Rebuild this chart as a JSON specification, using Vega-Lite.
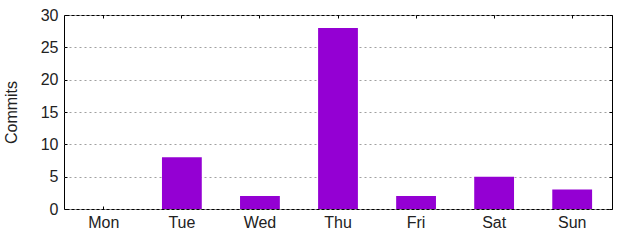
{
  "$schema": "https://vega.github.io/schema/vega-lite/v6.json",
  "width": 548,
  "height": 194,
  "autosize": {"type": "none"},
  "padding": {"left": 64, "top": 15, "right": 28, "bottom": 31},
  "background": "white",
  "config": {
    "font": "Liberation Sans",
    "view": {"stroke": "black", "strokeWidth": 1},
    "axis": {
      "labelFont": "Liberation Sans",
      "titleFont": "Liberation Sans",
      "labelFontSize": 16,
      "titleFontSize": 16,
      "labelColor": "#222222",
      "titleColor": "#222222",
      "titleFontWeight": "normal",
      "domain": false,
      "tickColor": "black",
      "tickSize": -3
    }
  },
  "data": {
    "values": [
      {"day": "Mon", "commits": 0},
      {"day": "Tue", "commits": 8},
      {"day": "Wed", "commits": 2},
      {"day": "Thu", "commits": 28},
      {"day": "Fri", "commits": 2},
      {"day": "Sat", "commits": 5},
      {"day": "Sun", "commits": 3}
    ]
  },
  "layer": [
    {
      "mark": {"type": "bar", "color": "#9400D3"},
      "encoding": {
        "x": {
          "field": "day",
          "type": "nominal",
          "sort": null,
          "scale": {"paddingInner": 0.49, "paddingOuter": 0.255},
          "axis": {"title": null, "labelAngle": 0, "labelPadding": 8, "orient": "bottom"}
        },
        "y": {
          "field": "commits",
          "type": "quantitative",
          "scale": {"domain": [0, 30], "nice": false},
          "axis": {
            "title": "Commits",
            "orient": "left",
            "values": [0, 5, 10, 15, 20, 25, 30],
            "grid": true,
            "gridColor": "#a0a0a0",
            "gridDash": [2, 3],
            "gridWidth": 1,
            "labelPadding": 9,
            "titlePadding": 21
          }
        }
      }
    },
    {
      "mark": {"type": "bar", "opacity": 0},
      "encoding": {
        "x": {
          "field": "day",
          "type": "nominal",
          "sort": null,
          "axis": {"title": null, "labels": false, "orient": "top"}
        },
        "y": {
          "field": "commits",
          "type": "quantitative",
          "axis": {"title": null, "labels": false, "orient": "right", "grid": false, "values": [0, 5, 10, 15, 20, 25, 30]}
        }
      }
    }
  ],
  "resolve": {"axis": {"x": "independent", "y": "independent"}}
}
